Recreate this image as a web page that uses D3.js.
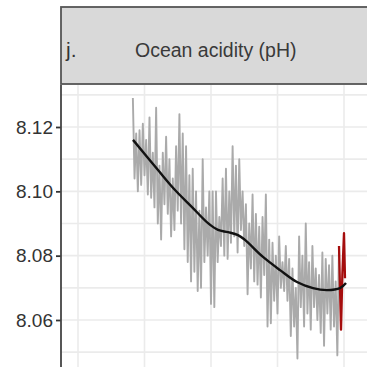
<!DOCTYPE html>
<html>
<head>
<meta charset="utf-8">
<script src="https://cdn.jsdelivr.net/npm/d3@7"></script>
<style>
  html, body { margin: 0; padding: 0; background: #ffffff; }
  svg { display: block; }
</style>
</head>
<body>
<svg id="chart" width="367" height="367"></svg>
<script>
// Ocean acidity (pH): quarterly surface pH, the most recent year, and a smoothed trend
const panelLetter = "j.";
const panelTitle = "Ocean acidity (pH)";

const yTicks = [8.06, 8.08, 8.10, 8.12];
const yGrid = [8.05, 8.06, 8.07, 8.08, 8.09, 8.10, 8.11, 8.12, 8.13];
const xGrid = [1980, 1990, 2000, 2010, 2020];

// quarterly observations starting 1988.25
const obsStart = 1988.25;
const obsStep = 0.25;
const obsValues = [
  8.129, 8.104, 8.118, 8.100, 8.119, 8.102, 8.121, 8.105, 8.116, 8.099,
  8.123, 8.098, 8.112, 8.095, 8.126, 8.090, 8.108, 8.085, 8.112, 8.096,
  8.117, 8.093, 8.110, 8.086, 8.104, 8.088, 8.114, 8.094, 8.124, 8.090,
  8.118, 8.082, 8.114, 8.078, 8.105, 8.072, 8.107, 8.075, 8.100, 8.069,
  8.094, 8.070, 8.110, 8.078, 8.095, 8.080, 8.100, 8.065, 8.100, 8.064,
  8.100, 8.078, 8.092, 8.083, 8.104, 8.080, 8.107, 8.079, 8.100, 8.084,
  8.114, 8.086, 8.108, 8.081, 8.110, 8.088, 8.100, 8.083, 8.096, 8.068,
  8.090, 8.076, 8.099, 8.072, 8.093, 8.071, 8.089, 8.067, 8.092, 8.074,
  8.099, 8.058, 8.085, 8.059, 8.084, 8.066, 8.080, 8.062, 8.086, 8.070,
  8.078, 8.069, 8.083, 8.066, 8.079, 8.055, 8.076, 8.058, 8.070, 8.048,
  8.086, 8.064, 8.080, 8.058, 8.090, 8.062, 8.078, 8.057, 8.083, 8.064,
  8.076, 8.060, 8.074, 8.056, 8.081, 8.052, 8.079, 8.062, 8.077, 8.057,
  8.080, 8.058, 8.072, 8.049, 8.083
];

// latest year
const recentYears = [2019.25, 2019.35, 2019.55, 2019.75, 2020.0, 2020.15];
const recentValues = [8.083, 8.074, 8.057, 8.074, 8.087, 8.073];

// smoothed trend
const trendYears = [1988.27, 1992.03, 1994.59, 1997.14, 1999.55, 2001.05, 2002.56, 2004.06,
                    2005.11, 2007.82, 2010.38, 2012.93, 2015.34, 2017.44, 2019.40, 2020.30];
const trendValues = [8.1160, 8.1066, 8.1004, 8.0951, 8.0901, 8.0880, 8.0873, 8.0864,
                     8.0849, 8.0796, 8.0755, 8.0718, 8.0699, 8.0693, 8.0699, 8.0715];

const svg = d3.select("#chart");
const panel = { left: 61, top: 85, right: 380, bottom: 385 };

const x = d3.scaleLinear().domain([1980, 2020]).range([78, 344]);
const y = d3.scaleLinear().domain([8.06, 8.12]).range([320, 127]);

// panel background
svg.append("rect")
  .attr("x", panel.left).attr("y", panel.top)
  .attr("width", panel.right - panel.left).attr("height", panel.bottom - panel.top)
  .attr("fill", "#ffffff");

const grid = svg.append("g").attr("stroke", "#ebebeb").attr("stroke-width", 1.6);
grid.selectAll("line.h").data(yGrid).join("line")
  .attr("class", "h")
  .attr("x1", panel.left).attr("x2", panel.right)
  .attr("y1", d => y(d)).attr("y2", d => y(d));
grid.selectAll("line.v").data(xGrid).join("line")
  .attr("class", "v")
  .attr("x1", d => x(d)).attr("x2", d => x(d))
  .attr("y1", panel.top).attr("y2", panel.bottom);

const obs = obsValues.map((v, i) => ({ t: obsStart + i * obsStep, v }));
const recent = recentYears.map((t, i) => ({ t, v: recentValues[i] }));
const trend = trendYears.map((t, i) => ({ t, v: trendValues[i] }));

const line = d3.line().x(d => x(d.t)).y(d => y(d.v));

svg.append("path")
  .datum(obs)
  .attr("d", line)
  .attr("fill", "none")
  .attr("stroke", "#aaaaaa")
  .attr("stroke-width", 1.9)
  .attr("stroke-linejoin", "round");

svg.append("path")
  .datum([obs[obs.length - 1]].concat(recent))
  .attr("d", line)
  .attr("fill", "none")
  .attr("stroke", "#a50d0d")
  .attr("stroke-width", 2.3)
  .attr("stroke-linejoin", "round");

svg.append("path")
  .datum(trend)
  .attr("d", d3.line().x(d => x(d.t)).y(d => y(d.v)).curve(d3.curveCatmullRom.alpha(0.5)))
  .attr("fill", "none")
  .attr("stroke", "#111111")
  .attr("stroke-width", 2.4);

// y axis
const yAxis = svg.append("g")
  .attr("transform", `translate(${panel.left},0)`)
  .call(d3.axisLeft(y).tickValues(yTicks).tickFormat(d3.format(".2f")).tickSize(5).tickPadding(3));
yAxis.select(".domain").remove();
yAxis.selectAll(".tick line").attr("stroke", "#333333").attr("stroke-width", 1.8);
yAxis.selectAll(".tick text")
  .attr("fill", "#333333")
  .style("font-family", "'Liberation Sans', Arial, sans-serif")
  .style("font-size", "19px");

svg.append("line")
  .attr("x1", panel.left).attr("x2", panel.left)
  .attr("y1", panel.top).attr("y2", panel.bottom)
  .attr("stroke", "#444444").attr("stroke-width", 1.8);

// facet strip
svg.append("rect")
  .attr("x", 61).attr("y", 7)
  .attr("width", 330).attr("height", 77)
  .attr("fill", "#d9d9d9")
  .attr("stroke", "#555555")
  .attr("stroke-width", 1.8);

svg.append("text")
  .attr("x", 66).attr("y", 57)
  .attr("fill", "#333333")
  .style("font-family", "'Liberation Sans', Arial, sans-serif")
  .style("font-size", "21px")
  .text(panelLetter);

svg.append("text")
  .attr("x", 135).attr("y", 57)
  .attr("fill", "#3a3a3a")
  .style("font-family", "'Liberation Sans', Arial, sans-serif")
  .style("font-size", "19.5px")
  .text(panelTitle);
</script>
</body>
</html>
